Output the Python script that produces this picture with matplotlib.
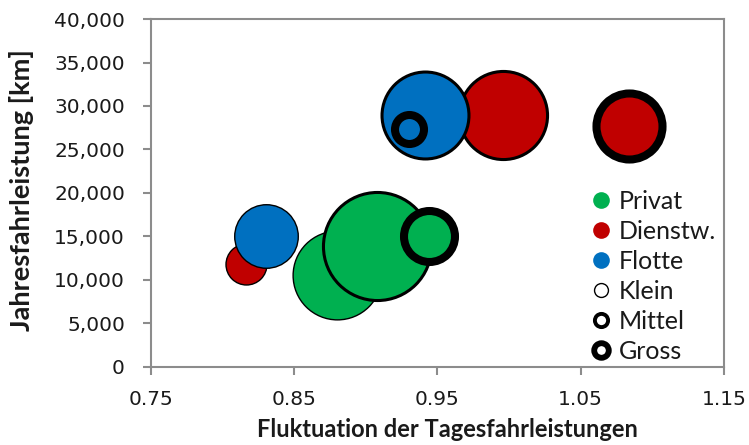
import numpy as np
import matplotlib.pyplot as plt
from matplotlib.lines import Line2D
from matplotlib.ticker import FuncFormatter

# Bubble data: x = Fluktuation, y = Jahresfahrleistung, groesse = bubble area
gruppen = ['Privat', 'Dienstw.', 'Flotte']
farben = {'Privat': '#00b050', 'Dienstw.': '#c00000', 'Flotte': '#0070c0'}
klassen = ['Klein', 'Mittel', 'Gross']
randbreite = {'Klein': 1.0, 'Mittel': 2.2, 'Gross': 5.8}

privat_x = [0.880, 0.908, 0.944]
privat_y = [10600, 13900, 15000]
privat_groesse = [1970, 2920, 650]

dienstw_x = [0.816, 0.996, 1.084]
dienstw_y = [11800, 29000, 27750]
dienstw_groesse = [420, 1940, 1090]

flotte_x = [0.830, 0.941, 0.930]
flotte_y = [15000, 29000, 27300]
flotte_groesse = [1010, 1890, 210]

x_ticks = [0.75, 0.85, 0.95, 1.05, 1.15]
y_ticks = np.arange(0, 40001, 5000)

daten = {
    'Privat': (privat_x, privat_y, privat_groesse),
    'Dienstw.': (dienstw_x, dienstw_y, dienstw_groesse),
    'Flotte': (flotte_x, flotte_y, flotte_groesse),
}

fig = plt.figure(figsize=(7.49, 4.45), dpi=100)
ax = fig.add_axes([0.2016, 0.1753, 0.765, 0.782])

# draw order so that overlaps stack like the original
for g in ['Dienstw.', 'Privat', 'Flotte']:
    xs, ys, gr = daten[g]
    for i, k in enumerate(klassen):
        ax.scatter(xs[i], ys[i], s=gr[i] * (2 * 0.72) ** 2, color=farben[g],
                   edgecolor='black', linewidth=randbreite[k], zorder=2 + i)

ax.set_xlim(0.75, 1.15)
ax.set_ylim(0, 40000)
ax.set_xticks(x_ticks)
ax.set_yticks(y_ticks)
ax.xaxis.set_major_formatter(FuncFormatter(lambda v, p: f'{v:.2f}'))
ax.yaxis.set_major_formatter(FuncFormatter(lambda v, p: f'{v:,.0f}'))

for s in ax.spines.values():
    s.set_color('#8c8c8c')
    s.set_linewidth(1.5)
ax.tick_params(direction='out', length=5.8, width=1.5, color='#8c8c8c',
               labelsize=14.5, labelcolor='#1a1a1a')
ax.tick_params(axis='x', pad=10.5)
ax.tick_params(axis='y', pad=13)
for lab in ax.get_xticklabels() + ax.get_yticklabels():
    lab.set_family('DejaVu Sans')

ax.set_xlabel('Fluktuation der Tagesfahrleistungen', family='Lato',
              fontweight='bold', fontsize=17, color='#1a1a1a')
ax.set_ylabel('Jahresfahrleistung [km]', family='Lato',
              fontweight='bold', fontsize=19.5, color='#1a1a1a')
ax.xaxis.set_label_coords(0.518, -0.148)
ax.yaxis.set_label_coords(-0.204, 0.509)

handles = [Line2D([], [], ls='none', marker='o', markersize=12,
                  markerfacecolor=farben[g], markeredgewidth=0) for g in gruppen]
handles += [
    Line2D([], [], ls='none', marker='o', markersize=10, markerfacecolor='white',
           markeredgecolor='black', markeredgewidth=1.0),
    Line2D([], [], ls='none', marker='o', markersize=9.5, markerfacecolor='white',
           markeredgecolor='black', markeredgewidth=2.8),
    Line2D([], [], ls='none', marker='o', markersize=10.5, markerfacecolor='white',
           markeredgecolor='black', markeredgewidth=4.2),
]
leg = ax.legend(handles, gruppen + klassen, loc='upper left',
                bbox_to_anchor=(0.7635, 0.509), frameon=False, borderpad=0,
                borderaxespad=0, labelspacing=0.28, handlelength=1.0,
                handletextpad=0.2, prop={'family': 'Lato', 'size': 18})
for t in leg.get_texts():
    t.set_color('#1a1a1a')

fig.savefig('out.png', dpi=100)
